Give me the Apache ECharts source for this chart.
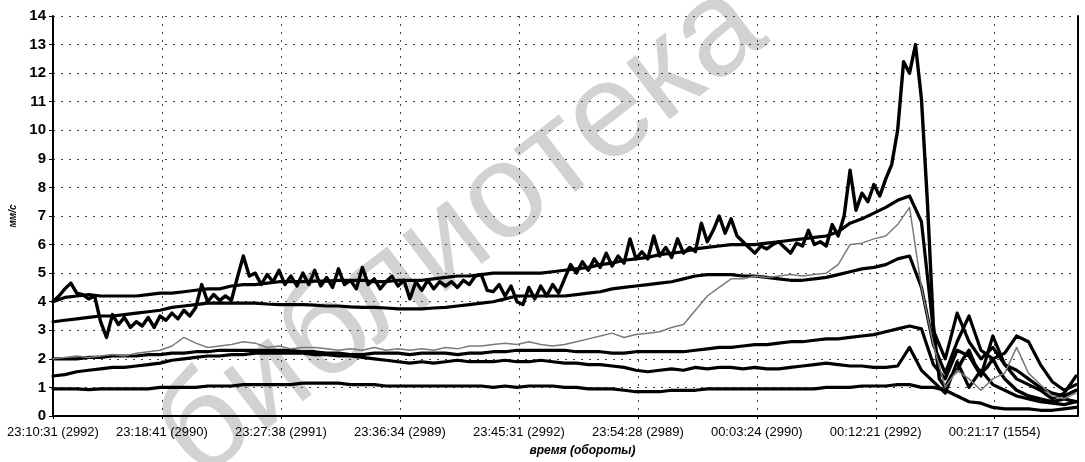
<!DOCTYPE html>
<html>
<head>
<meta charset="utf-8">
<script src="https://cdn.jsdelivr.net/npm/echarts@6/dist/echarts.min.js"></script>
<style>
  html, body { margin: 0; padding: 0; background: #fff; }
  #chart { width: 1085px; height: 462px; }
</style>
</head>
<body>
<div id="chart"></div>
<script>
// Time axis: one unit per labelled tick; samples are spaced evenly from the axis start.
const X_MIN = 0.084;
const X_MAX = 8.70;
const STEP = 0.1;
const FINE_STEP = 0.05;

const tickLabels = [
  '23:10:31 (2992)', '23:18:41 (2990)', '23:27:38 (2991)', '23:36:34 (2989)',
  '23:45:31 (2992)', '23:54:28 (2989)', '00:03:24 (2990)', '00:12:21 (2992)',
  '00:21:17 (1554)'
];
// Axis positions of the labelled ticks (first one sits at the axis start)
const tickValues = [X_MIN, 1, 2, 3, 4, 5, 6, 7, 8];

// Sensor velocity traces, mm/s
const seriesA = [
  4.0,4.2,4.45,4.65,4.3,4.25,4.1,4.2,3.3,2.75,
  3.55,3.2,3.45,3.1,3.3,3.15,3.45,3.1,3.5,3.35,
  3.6,3.4,3.7,3.5,3.8,4.6,4.0,4.25,4.05,4.2,
  4.05,4.85,5.6,4.9,5.0,4.6,4.95,4.7,5.1,4.6,
  4.9,4.55,5.0,4.6,5.1,4.55,4.85,4.5,5.15,4.6,
  4.75,4.45,5.2,4.6,4.8,4.45,4.7,4.9,4.55,4.75,
  4.1,4.7,4.4,4.75,4.45,4.7,4.55,4.7,4.5,4.75,
  4.6,4.9,4.95,4.4,4.35,4.6,4.2,4.55,4.0,3.9,
  4.5,4.1,4.55,4.2,4.6,4.3,4.8,5.3,5.0,5.4,
  5.1,5.5,5.2,5.7,5.25,5.6,5.35,6.2,5.5,5.75,
  5.5,6.3,5.6,5.9,5.55,6.2,5.7,5.9,5.75,6.75,
  6.1,6.5,7.0,6.4,6.9,6.3,6.1,5.9,5.7,5.95,
  5.85,6.0,6.1,5.9,5.7,6.05,5.95,6.5,6.0,6.1,
  5.95,6.7,6.3,7.0,8.6,7.2,7.8,7.5,8.1,7.7,
  8.3,8.8,10.0,12.4,12.0,13.0,11.1,7.5,3.2,1.3,
  1.0,1.4,1.6,2.0,2.3,1.8,1.5,1.7,2.0,1.6,
  1.3,1.1,0.9,0.8,0.7,0.65,0.6,0.55,0.5,0.55,
  0.6,0.55,0.5
];
const seriesB = [
  4.0,4.15,4.2,4.25,4.2,4.2,4.2,4.2,4.25,4.3,
  4.3,4.35,4.4,4.45,4.45,4.55,4.6,4.6,4.65,4.7,
  4.7,4.7,4.72,4.72,4.75,4.75,4.75,4.7,4.7,4.75,
  4.75,4.75,4.8,4.85,4.9,4.9,4.95,5.0,5.0,5.0,
  5.0,5.0,5.05,5.1,5.15,5.2,5.3,5.35,5.45,5.5,
  5.55,5.65,5.7,5.75,5.85,5.9,5.95,6.0,6.0,6.0,
  6.05,6.1,6.15,6.2,6.25,6.3,6.45,6.75,6.9,7.1,
  7.3,7.55,7.7,6.8,3.0,2.0,3.6,2.6,2.0,2.4,
  1.8,1.6,1.3,1.0,0.8,0.7,0.9
];
const seriesC = [
  3.3,3.35,3.4,3.45,3.5,3.5,3.55,3.6,3.65,3.7,
  3.8,3.85,3.9,3.95,3.95,3.95,3.95,3.95,3.92,3.9,
  3.9,3.9,3.88,3.85,3.85,3.82,3.8,3.8,3.78,3.75,
  3.75,3.75,3.78,3.8,3.85,3.9,3.95,4.0,4.1,4.2,
  4.2,4.2,4.2,4.2,4.25,4.3,4.35,4.45,4.5,4.55,
  4.6,4.65,4.7,4.8,4.9,4.95,4.95,4.95,4.9,4.9,
  4.85,4.8,4.75,4.75,4.8,4.85,4.95,5.05,5.15,5.2,
  5.3,5.5,5.6,4.5,2.5,1.5,2.6,3.5,2.3,2.0,
  2.2,2.8,2.6,1.8,1.2,0.9,1.1
];
const seriesD = [
  2.0,2.05,2.1,2.05,2.1,2.15,2.1,2.2,2.25,2.3,
  2.45,2.75,2.55,2.4,2.45,2.5,2.6,2.55,2.4,2.45,
  2.35,2.4,2.4,2.35,2.3,2.35,2.3,2.4,2.3,2.35,
  2.3,2.35,2.3,2.4,2.35,2.45,2.45,2.5,2.55,2.5,
  2.6,2.5,2.45,2.5,2.6,2.7,2.8,2.9,2.75,2.85,
  2.9,2.95,3.1,3.2,3.7,4.2,4.5,4.8,4.8,4.9,
  4.85,4.9,4.95,4.9,4.95,5.0,5.3,6.0,6.05,6.2,
  6.3,6.7,7.3,4.5,2.5,1.0,1.6,1.3,0.9,1.3,
  1.5,2.4,1.5,1.1,0.7,0.6,0.8
];
const seriesE = [
  2.0,2.0,2.0,2.05,2.05,2.1,2.1,2.1,2.15,2.15,
  2.2,2.2,2.25,2.25,2.3,2.3,2.3,2.3,2.3,2.3,
  2.3,2.25,2.25,2.2,2.2,2.15,2.15,2.2,2.2,2.2,
  2.15,2.2,2.2,2.2,2.15,2.2,2.2,2.25,2.25,2.3,
  2.3,2.3,2.3,2.3,2.25,2.25,2.25,2.2,2.2,2.25,
  2.25,2.25,2.25,2.25,2.3,2.35,2.4,2.4,2.45,2.5,
  2.5,2.55,2.6,2.6,2.65,2.7,2.7,2.75,2.8,2.85,
  2.95,3.05,3.15,3.05,1.8,1.3,2.3,2.1,1.4,2.8,
  1.8,1.3,1.1,0.9,0.6,0.8,1.4
];
const seriesF = [
  1.4,1.45,1.55,1.6,1.65,1.7,1.7,1.75,1.8,1.85,
  1.95,2.0,2.05,2.1,2.1,2.15,2.15,2.2,2.2,2.2,
  2.2,2.2,2.15,2.15,2.1,2.1,2.05,2.0,1.95,1.9,
  1.85,1.9,1.85,1.9,1.95,1.9,1.9,1.9,1.95,1.9,
  1.9,1.95,1.9,1.85,1.85,1.8,1.8,1.75,1.7,1.6,
  1.55,1.6,1.65,1.6,1.7,1.65,1.7,1.7,1.65,1.7,
  1.65,1.65,1.7,1.75,1.8,1.85,1.8,1.75,1.75,1.7,
  1.7,1.75,2.4,1.6,1.2,0.8,1.9,1.0,1.6,1.1,
  0.9,0.7,0.6,0.5,0.45,0.4,0.5
];
const seriesG = [
  0.95,0.95,0.95,0.92,0.95,0.95,0.95,0.95,0.95,1.0,
  1.0,1.0,1.0,1.05,1.05,1.05,1.1,1.1,1.1,1.1,
  1.1,1.15,1.15,1.15,1.15,1.1,1.1,1.1,1.05,1.05,
  1.05,1.05,1.05,1.05,1.05,1.05,1.05,1.0,1.05,1.0,
  1.05,1.05,1.05,1.0,1.0,0.95,0.95,0.95,0.9,0.85,
  0.85,0.85,0.9,0.9,0.9,0.95,0.95,0.95,0.95,0.95,
  0.95,0.95,0.95,0.95,0.95,1.0,1.0,1.0,1.05,1.05,
  1.05,1.1,1.1,1.0,1.0,0.9,0.7,0.5,0.45,0.3,
  0.25,0.25,0.25,0.2,0.2,0.25,0.3
];

const FONT = '"Liberation Sans", Arial, sans-serif';

function toPoints(values, step) {
  return values.map((v, i) => [X_MIN + i * step, v]);
}

function trace(values, step, color, width, z) {
  return {
    type: 'line',
    xAxisIndex: 0,
    yAxisIndex: 0,
    data: toPoints(values, step),
    showSymbol: false,
    symbol: 'none',
    silent: true,
    z: z,
    lineStyle: { color: color, width: width, join: 'round', cap: 'round' }
  };
}

function tickLabel(value) {
  const idx = tickValues.findIndex(t => Math.abs(t - value) < 1e-6);
  return idx >= 0 ? tickLabels[idx] : '';
}

const chart = echarts.init(document.getElementById('chart'), null, { renderer: 'canvas' });

chart.setOption({
  animation: false,
  backgroundColor: '#ffffff',
  grid: { left: 53, right: 7, top: 16, bottom: 45, containLabel: false },
  graphic: {
    z: -10,
    elements: [{
      type: 'text',
      x: 462,
      y: 232,
      rotation: 0.656,
      z: -10,
      silent: true,
      style: {
        text: 'библиотека',
        font: '135px ' + FONT,
        fill: '#d2d2d2',
        textAlign: 'center',
        textVerticalAlign: 'middle'
      }
    }]
  },
  xAxis: [{
    type: 'value',
    min: X_MIN,
    max: X_MAX,
    z: 1,
    name: 'время (обороты)',
    nameLocation: 'middle',
    nameGap: 29,
    nameTextStyle: {
      fontFamily: FONT, fontSize: 12, fontWeight: 'bold', fontStyle: 'italic',
      color: '#000', padding: [0, 0, 0, 34]
    },
    axisLine: { show: true, lineStyle: { color: '#000', width: 2 } },
    axisTick: { show: true, length: 3, customValues: tickValues, lineStyle: { color: '#000' } },
    axisLabel: {
      margin: 10,
      fontFamily: FONT,
      fontSize: 13,
      color: '#000',
      hideOverlap: false,
      customValues: tickValues,
      formatter: tickLabel
    },
    splitLine: { show: true, lineStyle: { color: '#444', width: 1, type: [2, 6] } }
  }, {
    type: 'value',
    position: 'top',
    min: X_MIN,
    max: X_MAX,
    z: 1,
    axisLine: { show: true, lineStyle: { color: '#000', width: 1.5, type: [4, 2] } },
    axisTick: { show: false },
    axisLabel: { show: false },
    splitLine: { show: false }
  }],
  yAxis: [{
    type: 'value',
    min: 0,
    max: 14,
    interval: 1,
    z: 1,
    name: 'мм/с',
    nameLocation: 'middle',
    nameGap: 28,
    nameRotate: 90,
    nameTextStyle: {
      fontFamily: FONT, fontSize: 10, fontWeight: 'bold', fontStyle: 'italic', color: '#000'
    },
    axisLine: { show: true, lineStyle: { color: '#000', width: 2 } },
    axisTick: { show: true, length: 4, lineStyle: { color: '#000' } },
    axisLabel: {
      margin: 7,
      fontFamily: FONT,
      fontSize: 15,
      fontWeight: 'bold',
      color: '#000'
    },
    splitLine: { show: true, lineStyle: { color: '#444', width: 1, type: [2, 6] } }
  }, {
    type: 'value',
    position: 'right',
    min: 0,
    max: 14,
    interval: 1,
    z: 1,
    axisLine: { show: true, lineStyle: { color: '#000', width: 2 } },
    axisTick: { show: false },
    axisLabel: { show: false },
    splitLine: { show: false }
  }],
  series: [
    trace(seriesG, STEP, '#000', 3.2, 3),
    trace(seriesF, STEP, '#000', 3.2, 3),
    trace(seriesE, STEP, '#000', 3.2, 3),
    trace(seriesC, STEP, '#000', 3.2, 3),
    trace(seriesB, STEP, '#000', 3.2, 3),
    trace(seriesA, FINE_STEP, '#000', 3.4, 3),
    trace(seriesD, STEP, '#7a7a7a', 1.5, 4)
  ]
});
</script>
</body>
</html>
